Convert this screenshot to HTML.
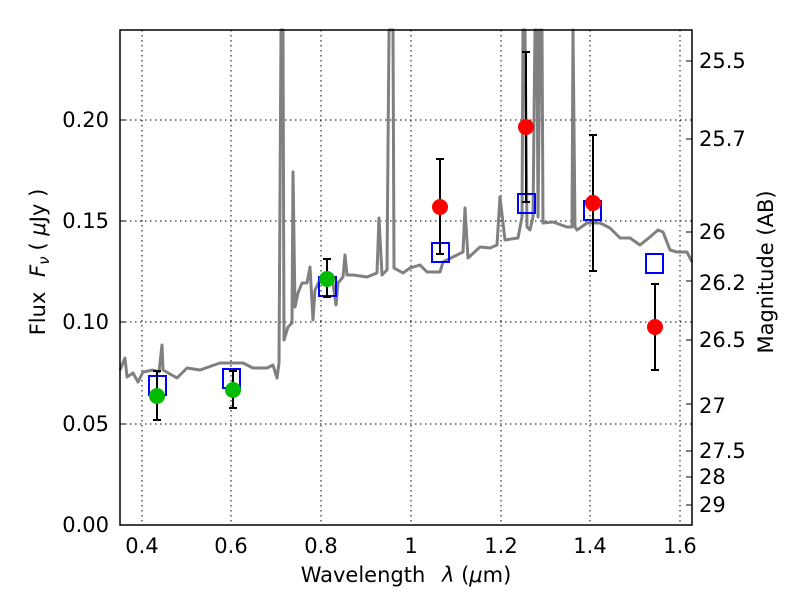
<!DOCTYPE html><html><head><style>body{margin:0;background:#fff}</style></head><body>
<svg width="800" height="600" xmlns="http://www.w3.org/2000/svg" font-family="DejaVu Sans, Liberation Sans, sans-serif">
<rect width="800" height="600" fill="#fff"/>
<g stroke="#000" stroke-dasharray="1.5,3.5" stroke-width="1">
<line x1="142" y1="30" x2="142" y2="525"/><line x1="231" y1="30" x2="231" y2="525"/><line x1="321" y1="30" x2="321" y2="525"/><line x1="411" y1="30" x2="411" y2="525"/><line x1="501" y1="30" x2="501" y2="525"/><line x1="590" y1="30" x2="590" y2="525"/><line x1="680" y1="30" x2="680" y2="525"/>
<line x1="120" y1="120" x2="692" y2="120"/><line x1="120" y1="221" x2="692" y2="221"/><line x1="120" y1="322" x2="692" y2="322"/><line x1="120" y1="424" x2="692" y2="424"/>
</g>
<polyline fill="none" stroke="#808080" stroke-width="3" stroke-linejoin="round" points="120,370 125,358 127,377 133,373 138,382 143,372 153,370 159,372 162,345 163,370 177,378 187,368 200,370 220,363 243,363 253,368 267,368 273,365 277,378 279,363 281,30 283,30 284,340 288,327 292,323 293,172 295,307 298,293 302,283 307,283 310,267 313,320 315,290 320,280 333,283 336,305 338,283 343,277 345,255 347,275 353,275 367,277 377,273 379,218 382,275 387,270 389,30 393,30 394,268 403,273 410,268 420,265 427,272 440,272 443,262 453,257 463,252 465,208 468,258 480,247 490,248 497,245 500,197 505,240 518,238 522,217 523,30 525,30 527,227 530,230 533,217 535,30 537,30 538,217 540,30 542,30 543,223 553,222 567,227 572,227 573,30 575,227 577,230 587,223 600,223 610,228 620,238 630,238 640,245 650,237 658,230 663,232 670,250 677,252 687,252 692,262"/>
<g fill="none" stroke="#0000ff" stroke-width="2">
<rect x="149" y="376" width="17" height="19"/><rect x="223" y="369" width="17" height="19"/><rect x="319" y="277" width="17" height="19"/><rect x="432" y="243" width="17" height="19"/><rect x="518" y="194" width="17" height="19"/><rect x="584" y="201" width="17" height="19"/><rect x="646" y="254" width="17" height="19"/>
</g>
<g stroke="#000" stroke-width="2">
<line x1="157" y1="371" x2="157" y2="420"/><line x1="153" y1="371" x2="161" y2="371"/><line x1="153" y1="420" x2="161" y2="420"/>
<line x1="233" y1="371" x2="233" y2="408"/><line x1="229" y1="371" x2="237" y2="371"/><line x1="229" y1="408" x2="237" y2="408"/>
<line x1="327" y1="259" x2="327" y2="297"/><line x1="323" y1="259" x2="331" y2="259"/><line x1="323" y1="297" x2="331" y2="297"/>
<line x1="440" y1="159" x2="440" y2="254"/><line x1="436" y1="159" x2="444" y2="159"/><line x1="436" y1="254" x2="444" y2="254"/>
<line x1="526" y1="52" x2="526" y2="202"/><line x1="522" y1="52" x2="530" y2="52"/><line x1="522" y1="202" x2="530" y2="202"/>
<line x1="593" y1="135" x2="593" y2="271"/><line x1="589" y1="135" x2="597" y2="135"/><line x1="589" y1="271" x2="597" y2="271"/>
<line x1="655" y1="284" x2="655" y2="370"/><line x1="651" y1="284" x2="659" y2="284"/><line x1="651" y1="370" x2="659" y2="370"/>
</g>
<g fill="#00bb00"><circle cx="157" cy="396" r="8"/><circle cx="233" cy="390" r="8"/><circle cx="327" cy="279" r="8"/></g>
<g fill="#ff0000"><circle cx="440" cy="207" r="8"/><circle cx="526" cy="127" r="8"/><circle cx="593" cy="203" r="8"/><circle cx="655" cy="327" r="8"/></g>
<rect x="120" y="30" width="572" height="495" fill="none" stroke="#000" stroke-width="1.5"/>
<g stroke="#000" stroke-width="1">
<line x1="120" y1="120" x2="126" y2="120"/><line x1="120" y1="221" x2="126" y2="221"/><line x1="120" y1="322" x2="126" y2="322"/><line x1="120" y1="424" x2="126" y2="424"/>
<line x1="686" y1="61" x2="692" y2="61"/><line x1="686" y1="139" x2="692" y2="139"/><line x1="686" y1="232" x2="692" y2="232"/><line x1="686" y1="281" x2="692" y2="281"/><line x1="686" y1="340" x2="692" y2="340"/><line x1="686" y1="404" x2="692" y2="404"/><line x1="686" y1="451" x2="692" y2="451"/><line x1="686" y1="477" x2="692" y2="477"/><line x1="686" y1="505" x2="692" y2="505"/>
</g>
<g font-size="21" fill="#000" text-anchor="end">
<text x="109" y="532">0.00</text><text x="109" y="431">0.05</text><text x="109" y="329">0.10</text><text x="109" y="228">0.15</text><text x="109" y="127">0.20</text>
</g>
<g font-size="21" fill="#000" text-anchor="middle">
<text x="142" y="553">0.4</text><text x="231" y="553">0.6</text><text x="321" y="553">0.8</text><text x="411" y="553">1</text><text x="501" y="553">1.2</text><text x="590" y="553">1.4</text><text x="680" y="553">1.6</text>
<text x="406" y="582">Wavelength <tspan dx="10" font-style="italic">λ</tspan> (<tspan font-style="italic">μ</tspan>m)</text>
</g>
<g font-size="21" fill="#000">
<text x="699" y="68">25.5</text><text x="699" y="146">25.7</text><text x="699" y="239">26</text><text x="699" y="290">26.2</text><text x="699" y="347">26.5</text><text x="699" y="413">27</text><text x="699" y="458">27.5</text><text x="699" y="484">28</text><text x="699" y="512">29</text>
</g>
<text transform="translate(45,262) rotate(-90)" font-size="21" text-anchor="middle">Flux <tspan dx="8" font-style="italic">F</tspan><tspan font-style="italic" font-size="15" dy="4">ν</tspan><tspan dy="-4" dx="6">( <tspan font-style="italic">μ</tspan>Jy )</tspan></text>
<text transform="translate(773,272) rotate(-90)" font-size="21" text-anchor="middle">Magnitude (AB)</text>
</svg>
</body></html>
